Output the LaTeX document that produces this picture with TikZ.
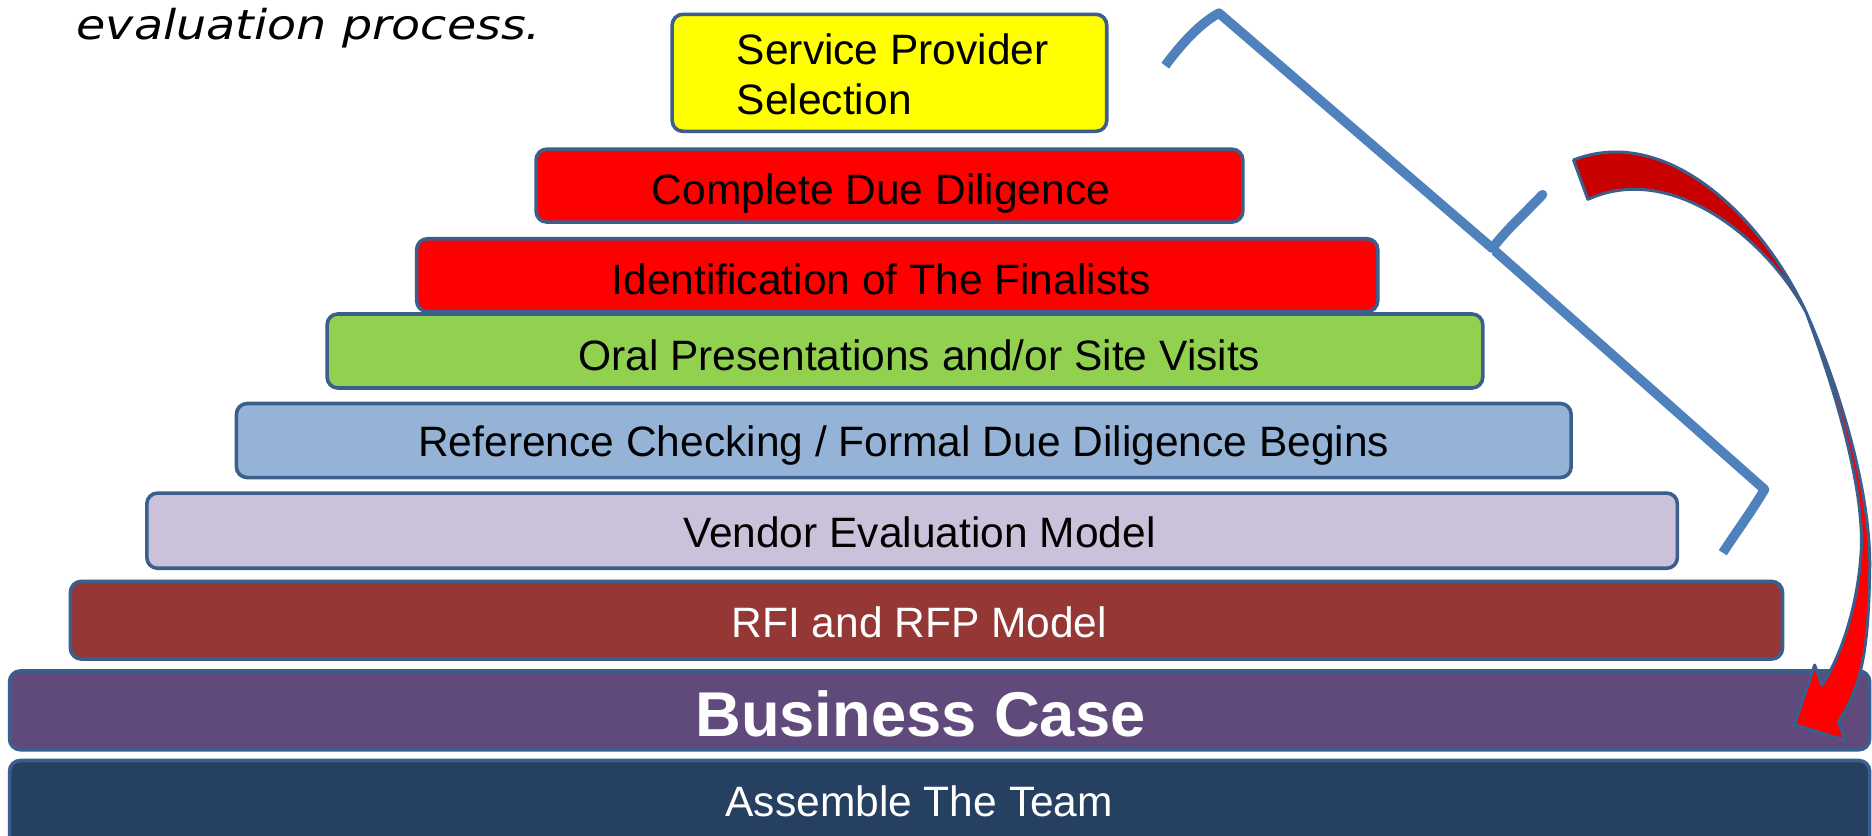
\documentclass[tikz,border=0pt]{standalone}
\usepackage{fontspec}
\setmainfont{Liberation Sans}
\newfontfamily\verd[FakeStretch=1.155]{DejaVu Sans}
\definecolor{outl}{HTML}{3B5E8C}
\definecolor{cyel}{HTML}{FFFF00}
\definecolor{cred}{HTML}{FF0000}
\definecolor{cgreen}{HTML}{92D050}
\definecolor{cblue}{HTML}{95B3D7}
\definecolor{clav}{HTML}{CCC1DA}
\definecolor{cbrick}{HTML}{953735}
\definecolor{cpurp}{HTML}{604A7B}
\definecolor{cnavy}{HTML}{254061}
\definecolor{cbrace}{HTML}{4F81BD}
\definecolor{cdark}{HTML}{C80000}
\begin{document}
\begin{tikzpicture}[x=1pt,y=-1pt,
  bar/.style={draw=outl, line width=3pt, rounded corners=9pt},
  txt/.style={anchor=base, inner sep=0pt, font=\fontsize{35.6}{42}\selectfont},
  wtxt/.style={txt, text=white},
  bracestyle/.style={draw=cbrace, line width=8pt, line join=round}]
\useasboundingbox (0,0) rectangle (1568,700);
\begin{scope}
\clip (0,0) rectangle (1568,700);
% intro text
\node[anchor=base west, inner sep=0pt, font=\verd\itshape\fontsize{34.5}{40}\selectfont] (intro) at (64,33) {evaluation process.};
% bars
\draw[bar, fill=cnavy] (8,637) rectangle (1566,712);
\draw[bar, fill=cpurp] (8,562) rectangle (1566,628);
\draw[bar, fill=cbrick] (59,487) rectangle (1493,552);
\draw[bar, fill=clav] (123,413) rectangle (1405,476);
\draw[bar, fill=cblue] (198,338) rectangle (1316,400);
\draw[bar, fill=cgreen] (274,263) rectangle (1242,325);
\draw[bar, fill=cred] (349,200) rectangle (1154,261);
\draw[bar, fill=cred] (449,125) rectangle (1041,186);
\draw[bar, fill=cyel] (563,12) rectangle (927,110);
% texts
\node[txt, anchor=base west] (t1a) at (617,54) {Service Provider};
\node[txt, anchor=base west] (t1b) at (617,96) {Selection};
\node[txt] (t2) at (738,171) {Complete Due Diligence};
\node[txt] (t3) at (738,247) {Identification of The Finalists};
\node[txt] (t4) at (770,310) {Oral Presentations and/or Site Visits};
\node[txt] (t5) at (757,382) {Reference Checking / Formal Due Diligence Begins};
\node[txt] (t6) at (770,459) {Vendor Evaluation Model};
\node[wtxt] (t7) at (770,534) {RFI and RFP Model};
\node[wtxt, font=\bfseries\fontsize{53}{60}\selectfont] (t8) at (771,617) {Business Case};
\node[wtxt] (t9) at (770,684) {Assemble The Team};
% brace
\draw[bracestyle] (976,55) .. controls (993,32) and (1008,18) .. (1021,11) -- (1250,208);
\draw[bracestyle, line cap=round] (1250,208) .. controls (1262,192) and (1278,178) .. (1292,163);
\draw[bracestyle] (1252,210) -- (1478,410) .. controls (1466,430) and (1454,446) .. (1443,463);
% curved arrow
\fill[cred] (1318,134) .. controls (1395,104) and (1475,180) .. (1513,262)
  .. controls (1545,335) and (1568,420) .. (1566,480)
  .. controls (1565,540) and (1560,575) .. (1540,604) -- (1545,620) -- (1503,607) -- (1520,557) -- (1526,574)
  .. controls (1545,545) and (1557,500) .. (1559,460)
  .. controls (1561,410) and (1540,335) .. (1513,262)
  .. controls (1480,200) and (1400,135) .. (1330,167) -- cycle;
\fill[cdark] (1318,134) .. controls (1395,104) and (1475,180) .. (1513,262)
  .. controls (1480,200) and (1400,135) .. (1330,167) -- cycle;
\draw[outl, line width=2.5pt, line join=round] (1318,134) .. controls (1395,104) and (1475,180) .. (1513,262)
  .. controls (1545,335) and (1568,420) .. (1566,480)
  .. controls (1565,540) and (1560,575) .. (1540,604) -- (1545,620) -- (1503,607) -- (1520,557) -- (1526,574)
  .. controls (1545,545) and (1557,500) .. (1559,460)
  .. controls (1561,410) and (1540,335) .. (1513,262)
  .. controls (1480,200) and (1400,135) .. (1330,167) -- cycle;
\end{scope}
\end{tikzpicture}
\end{document}
